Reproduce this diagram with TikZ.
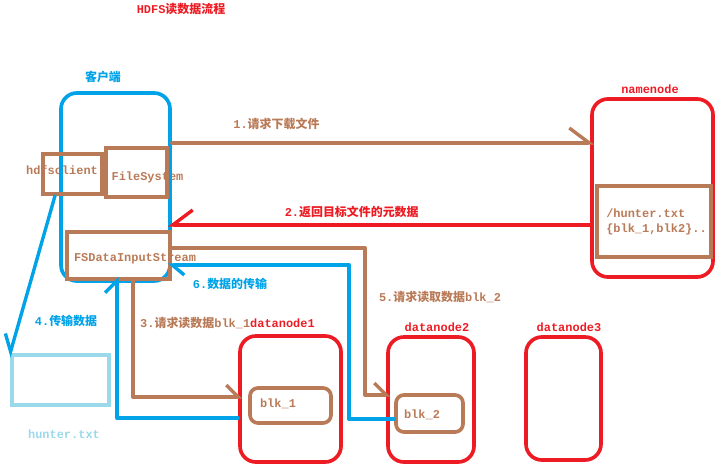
\documentclass[tikz,border=0pt]{standalone}
\usepackage{fontspec}
\setmainfont{Liberation Mono}
\newfontfamily\cjk{Noto Sans CJK SC}
\usetikzlibrary{arrows.meta}
\definecolor{pbrown}{HTML}{B97A57}
\definecolor{pred}{HTML}{ED1C24}
\definecolor{pblue}{HTML}{00A2E8}
\definecolor{plight}{HTML}{99D9EA}

\begin{document}
\begin{tikzpicture}[x=0.025cm,y=-0.025cm,every node/.style={font=\bfseries\fontsize{8.5}{10.6}\selectfont,inner sep=0pt}]

	\tikzstyle{box}=[rectangle,line width=2.6pt,inner sep=0pt]
	\tikzstyle{brown box}=[box,draw=pbrown]
	\tikzstyle{red box}=[box,draw=pred,rounded corners=0.4cm]
	\tikzstyle{blue box}=[box,draw=pblue,rounded corners=0.4cm]
	\tikzstyle{flow}=[line width=2.4pt,line cap=round,line join=round,shorten >=-3pt]

	\useasboundingbox (0,0) rectangle (725,470);

	% Texts:
	\node[text=pred] (title) at (181,9) {HDFS{\cjk 读数据流程}};
	\node[text=pblue] (clientname) at (103,77) {\cjk 客户端};
	\node[text=pbrown] (hdfstext) at (62,170) {hdfsclient};
	\node[text=pbrown] (fstext) at (147.5,177) {FileSystem};
	\node[text=pbrown] (fsdistext) at (135,259) {FSDataInputStream};
	\node[text=pred] (nnname) at (650,89) {namenode};
	\node[text=pbrown,align=left,anchor=west] (metatext) at (606,221.5) {/hunter.txt\\\{blk\_1,blk2\}...};
	\node[text=pred] (dn2name) at (437,327) {datanode2};
	\node[text=pred] (dn3name) at (569,327) {datanode3};
	\node[text=pbrown] (blk1text) at (278,404) {blk\_1};
	\node[text=pbrown] (blk2text) at (422,415) {blk\_2};
	\node[text=plight] (huntername) at (64,434) {hunter.txt};

	% Boxes:
	\node[blue box,minimum width=2.725cm,minimum height=4.7cm] (client) at (115.5,187) {};
	\node[brown box,minimum width=1.475cm,minimum height=1cm] (hdfsbox) at (72.5,174) {};
	\node[brown box,minimum width=1.525cm,minimum height=1.225cm] (fsbox) at (136.5,172.5) {};
	\node[brown box,minimum width=2.575cm,minimum height=1.175cm] (fsdis) at (118.5,255.5) {};
	\node[red box,minimum width=3.025cm,minimum height=4.45cm] (namenode) at (652.5,188) {};
	\node[brown box,minimum width=2.85cm,minimum height=1.775cm] (meta) at (654,221.5) {};
	\node[red box,minimum width=2.525cm,minimum height=3.15cm] (dn1) at (290.5,399) {};
	\node[brown box,rounded corners=0.2cm,minimum width=2.025cm,minimum height=0.875cm] (blk1) at (290.5,405.5) {};
	\node[red box,minimum width=2.15cm,minimum height=3.125cm] (dn2) at (431,399.5) {};
	\node[brown box,rounded corners=0.2cm,minimum width=1.675cm,minimum height=0.925cm] (blk2) at (429.5,413.5) {};
	\node[red box,minimum width=1.875cm,minimum height=3.075cm] (dn3) at (563.5,398.5) {};
	\node[box,draw=plight,minimum width=2.425cm,minimum height=1.25cm] (hunter) at (60.5,380) {};

	% Steps:
	\draw[flow,pbrown,-{Straight Barb[left,length=5mm,width=7.5mm]}] (client.east |- 0,143) -- (namenode.west |- 0,143) node[pos=.25,above=8pt] (step1) {1.{\cjk 请求下载文件}};
	\draw[flow,pred,-{Straight Barb[right,length=5mm,width=7.5mm]}] (namenode.west |- 0,225) -- (client.east |- 0,225) node[pos=.57,above=4pt] (step2) {2.{\cjk 返回目标文件的元数据}};
	\draw[flow,pbrown,-{Straight Barb[left,length=3mm,width=6mm]}] (fsdis.south -| 133,0) |- (dn1.west |- 0,397);
	\node[text=pbrown] (step3) at (227.5,323) {3.{\cjk 请求读数据}blk\_1\textcolor{pred}{datanode1}};
	\draw[flow,pblue,-{Straight Barb[right,length=4mm,width=5mm]}] (hdfsbox.south -| 55,0) -- (hunter.north west);
	\node[text=pblue] (step4) at (66,321) {4.{\cjk 传输数据}};
	\draw[flow,pbrown,-{Straight Barb[left,length=3mm,width=6mm]}] (fsdis.east |- 0,248) -| (365,395) -- (dn2.west |- 0,395);
	\node[text=pbrown] (step5) at (440,297) {5.{\cjk 请求读取数据}blk\_2};
	\draw[flow,pblue,-{Straight Barb[left,length=3mm,width=5mm]}] (blk2.west |- 0,419) -| (349,265) -- (fsdis.east |- 0,265);
	\node[text=pblue] (step6) at (230,284) {6.{\cjk 数据的传输}};
	\draw[flow,pblue,-{Straight Barb[left,length=3mm,width=6mm]}] (dn1.west |- 0,418) -| (fsdis.south -| 117,0);

\end{tikzpicture}
\end{document}
